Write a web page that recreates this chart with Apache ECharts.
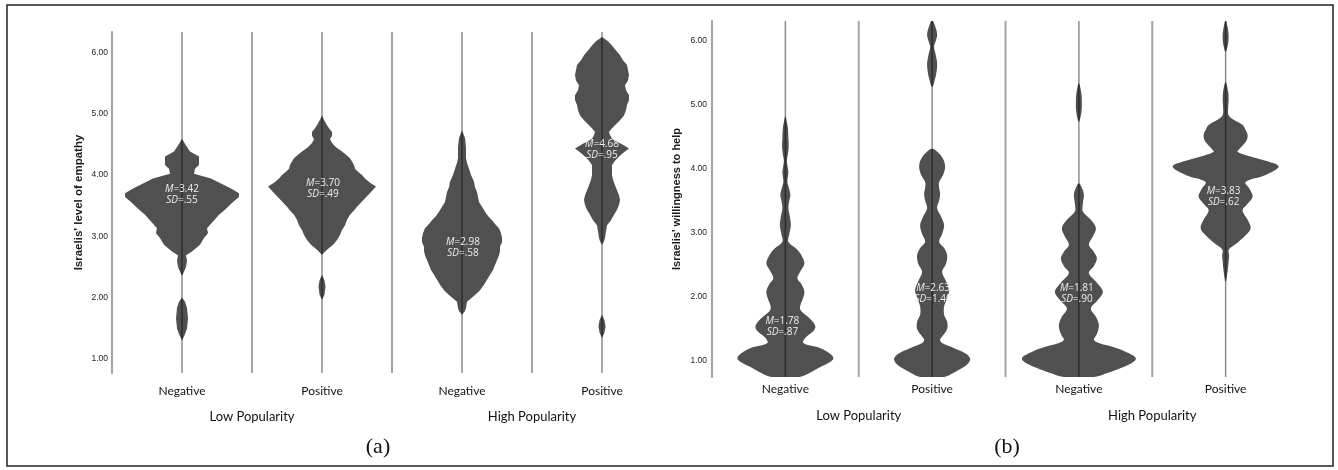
<!DOCTYPE html>
<html>
<head>
<meta charset="utf-8">
<script src="https://cdn.jsdelivr.net/npm/echarts@6/dist/echarts.min.js"></script>
<style>
  html, body { margin: 0; padding: 0; background: #fff; }
  #chart { width: 1338px; height: 470px; }
</style>
</head>
<body>
<div id="chart"></div>
<script>
// ---- data ----
const categories = ['Negative', 'Positive', 'Negative', 'Positive'];
const groups = ['Low Popularity', 'High Popularity'];
const yTicks = [1, 2, 3, 4, 5, 6];

const empathyMeans = [3.42, 3.70, 2.98, 4.68];
const empathySDs = [0.55, 0.49, 0.58, 0.95];
const helpMeans = [1.78, 2.63, 1.81, 3.83];
const helpSDs = [0.87, 1.40, 0.90, 0.62];

// density profiles: [scale value, half width]; a zero width closes a blob
const empathyNegLow = [
  [1.30, 0], [1.40, 3], [1.50, 5], [1.66, 6], [1.83, 5], [1.93, 3], [2.00, 0],
  [2.35, 0], [2.42, 2], [2.50, 4], [2.60, 5], [2.69, 4], [2.75, 10], [2.86, 18],
  [2.97, 22], [3.05, 26], [3.13, 25], [3.24, 31], [3.35, 37], [3.45, 44], [3.56, 51],
  [3.64, 57], [3.70, 57], [3.78, 49], [3.86, 39], [3.94, 29], [4.02, 12], [4.10, 13],
  [4.16, 17], [4.30, 17], [4.38, 8], [4.48, 4], [4.59, 0]
];
const empathyPosLow = [
  [1.96, 0], [2.05, 2.5], [2.18, 3.5], [2.28, 2.5], [2.37, 0],
  [2.70, 0], [2.78, 5], [2.86, 11], [2.94, 15], [3.02, 18], [3.10, 20], [3.18, 23],
  [3.27, 25], [3.35, 28], [3.42, 32], [3.48, 35], [3.55, 39], [3.62, 43], [3.72, 49],
  [3.81, 54], [3.87, 48], [3.94, 43], [4.00, 40], [4.05, 36], [4.10, 33], [4.16, 32],
  [4.22, 30], [4.27, 28], [4.33, 24], [4.38, 20], [4.45, 14], [4.52, 10], [4.58, 8],
  [4.64, 10], [4.70, 10], [4.76, 7], [4.81, 5], [4.90, 2], [4.97, 0]
];
const empathyNegHigh = [
  [1.72, 0], [1.78, 3], [1.83, 4], [1.93, 5], [2.04, 13], [2.12, 18], [2.21, 22],
  [2.29, 25], [2.37, 28], [2.45, 31], [2.53, 33], [2.61, 35], [2.69, 37], [2.76, 38],
  [2.83, 38], [2.90, 40], [2.97, 40], [3.05, 39], [3.13, 37], [3.20, 33], [3.26, 30],
  [3.33, 26], [3.40, 23], [3.48, 20], [3.56, 17], [3.64, 16], [3.72, 15], [3.80, 13],
  [3.89, 12], [4.00, 9], [4.10, 7], [4.20, 5], [4.27, 4], [4.45, 4], [4.60, 3], [4.73, 0]
];
const empathyPosHigh = [
  [1.34, 0], [1.43, 2.5], [1.53, 3.5], [1.63, 2.5], [1.72, 0],
  [2.86, 0], [2.92, 2], [2.97, 3], [3.08, 4], [3.18, 5], [3.26, 9], [3.35, 12],
  [3.43, 15], [3.51, 17], [3.59, 18], [3.67, 17], [3.75, 15], [3.83, 13], [3.92, 11],
  [4.00, 10], [4.08, 10], [4.16, 10], [4.23, 13], [4.30, 17], [4.37, 22], [4.43, 27],
  [4.50, 20], [4.55, 14], [4.59, 10], [4.65, 8], [4.70, 7], [4.76, 10], [4.81, 13],
  [4.89, 18], [4.97, 22], [5.06, 24], [5.14, 25], [5.22, 27], [5.30, 27], [5.38, 24],
  [5.46, 23], [5.54, 26], [5.63, 27], [5.71, 26], [5.79, 25], [5.87, 21], [5.95, 18],
  [6.03, 14], [6.11, 10], [6.18, 6], [6.25, 0]
];

const helpNegLow = [
  [0.75, 14], [0.82, 25], [0.89, 33], [0.96, 42], [1.04, 48], [1.12, 44], [1.20, 35],
  [1.28, 18], [1.36, 20], [1.45, 27], [1.53, 30], [1.62, 27], [1.72, 20], [1.80, 15],
  [1.87, 15], [1.95, 17], [2.08, 19], [2.20, 16], [2.29, 12], [2.40, 15], [2.52, 19],
  [2.65, 16], [2.75, 11], [2.86, 3], [2.98, 4], [3.12, 5.5], [3.25, 4.5], [3.38, 3],
  [3.50, 4], [3.59, 5], [3.70, 3.5], [3.79, 2], [3.87, 2.5], [3.95, 3], [4.05, 2],
  [4.13, 1.5], [4.22, 2.5], [4.34, 3.3], [4.48, 3], [4.63, 2.5], [4.72, 1.5], [4.81, 0]
];
const helpPosLow = [
  [0.75, 12], [0.82, 22], [0.89, 30], [0.96, 36], [1.04, 38], [1.12, 33], [1.20, 22],
  [1.28, 10], [1.33, 8], [1.40, 11], [1.50, 15], [1.61, 15], [1.72, 12], [1.85, 12],
  [1.98, 15], [2.11, 17], [2.24, 14], [2.39, 10], [2.52, 14], [2.65, 15], [2.76, 12],
  [2.86, 7], [2.98, 10], [3.12, 12], [3.25, 9], [3.38, 5], [3.50, 7], [3.61, 8],
  [3.70, 7], [3.79, 7], [3.90, 11], [4.03, 13], [4.15, 11], [4.25, 6], [4.31, 0],
  [5.27, 0], [5.40, 3], [5.52, 4.5], [5.64, 5], [5.78, 3.5], [5.90, 2], [5.98, 3.5],
  [6.08, 5], [6.20, 3.5], [6.31, 0]
];
const helpNegHigh = [
  [0.75, 15], [0.82, 30], [0.89, 42], [0.96, 52], [1.04, 57], [1.12, 50], [1.20, 38],
  [1.28, 20], [1.33, 15], [1.42, 18], [1.56, 20], [1.69, 17], [1.82, 12], [1.95, 19],
  [2.08, 24], [2.22, 18], [2.37, 10], [2.48, 15], [2.60, 18], [2.70, 15], [2.81, 10],
  [2.94, 14], [3.07, 17], [3.20, 12], [3.33, 4], [3.45, 4], [3.59, 5], [3.68, 3.5],
  [3.77, 0],
  [4.73, 0], [4.87, 2.5], [5.01, 3], [5.17, 2.5], [5.33, 0]
];
const helpPosHigh = [
  [2.24, 0], [2.40, 2], [2.55, 3], [2.65, 3.5], [2.73, 3], [2.80, 8], [2.86, 13],
  [2.96, 20], [3.07, 25], [3.20, 22], [3.35, 17], [3.45, 22], [3.56, 27], [3.68, 24],
  [3.79, 20], [3.90, 40], [4.03, 53], [4.12, 40], [4.20, 22], [4.26, 12], [4.31, 14],
  [4.36, 17], [4.44, 21], [4.52, 22], [4.60, 20], [4.68, 17], [4.76, 8], [4.83, 3],
  [4.95, 2.5], [5.07, 3], [5.20, 2.5], [5.35, 0],
  [5.82, 0], [5.95, 2.5], [6.08, 3], [6.20, 2], [6.31, 0]
];

// ---- panel setup ----
const panels = [
  {
    title: "Israelis' level of empathy",
    profiles: [empathyNegLow, empathyPosLow, empathyNegHigh, empathyPosHigh],
    means: empathyMeans, sds: empathySDs,
    refWidth: 140, smooth: 0,
    labelOffsets: [[0, -16], [1, -5], [1, 10], [0, 16.5]]
  },
  {
    title: "Israelis' willingness to help",
    profiles: [helpNegLow, helpPosLow, helpNegHigh, helpPosHigh],
    means: helpMeans, sds: helpSDs,
    refWidth: 146.7, smooth: 0.35,
    labelOffsets: [[-3, 15.5], [1, 37], [-2, -15], [-2, 17]]
  }
];

const VIOLIN_FILL = '#505050';
const GUIDE_GRAY = '#a3a3a3';

function splitBlobs(profile) {
  const blobs = [];
  let cur = [];
  profile.forEach(p => {
    cur.push(p);
    if (p[1] === 0 && cur.length > 1) { blobs.push(cur); cur = []; }
  });
  if (cur.length > 1) blobs.push(cur);
  return blobs;
}

function fmtSD(sd) {
  return sd.toFixed(2).replace(/^0/, '');
}

function violinSeries(panel, gi) {
  return {
    type: 'custom',
    xAxisIndex: gi * 2,
    yAxisIndex: gi,
    silent: true,
    clip: true,
    encode: { x: 0, y: 1 },
    data: panel.means.map((m, i) => [i + 0.5, m]),
    renderItem(params, api) {
      const i = params.dataIndex;
      const cs = params.coordSys;
      const unit = api.size([1, 0])[0];
      const k = unit / panel.refWidth;
      const cx = api.coord([i + 0.5, panel.means[i]])[0];
      const children = [];
      if (i > 0) {
        const sx = api.coord([i, panel.means[i]])[0];
        children.push({
          type: 'line',
          shape: { x1: sx, y1: cs.y, x2: sx, y2: cs.y + cs.height },
          style: { stroke: GUIDE_GRAY, lineWidth: 2 }
        });
      }
      splitBlobs(panel.profiles[i]).forEach(blob => {
        const right = blob.map(([v, d]) => [cx + d * k, api.coord([0, v])[1]]);
        const leftSrc = blob.slice().reverse().filter((p, j, arr) =>
          !(p[1] === 0 && (j === 0 || j === arr.length - 1)));
        const left = leftSrc.map(([v, d]) => [cx - d * k, api.coord([0, v])[1]]);
        children.push({
          type: 'polygon',
          shape: { points: right.concat(left), smooth: panel.smooth },
          style: { fill: VIOLIN_FILL }
        });
      });
      children.push({
        type: 'line',
        shape: { x1: cx, y1: cs.y, x2: cx, y2: cs.y + cs.height },
        style: { stroke: 'rgba(0,0,0,0.45)', lineWidth: 1.5 }
      });
      const [dx, dy] = panel.labelOffsets[i];
      const my = api.coord([0, panel.means[i]])[1];
      children.push({
        type: 'text',
        x: cx + dx,
        y: my + dy,
        style: {
          text: '{i|M}{n|=' + panel.means[i].toFixed(2) + '}\n{i|SD}{n|=' + fmtSD(panel.sds[i]) + '}',
          align: 'center',
          verticalAlign: 'middle',
          rich: {
            i: { fontStyle: 'italic', fontSize: 10, fontFamily: 'Open Sans', fill: '#eeeeee', lineHeight: 11 },
            n: { fontSize: 10, fontFamily: 'Open Sans', fill: '#eeeeee', lineHeight: 11 }
          }
        }
      });
      return { type: 'group', children };
    }
  };
}

const grids = [
  { left: 112, top: 32, width: 560, height: 341, yMin: 0.77, yMax: 6.33, nameGap: 27, nameSize: 11.5, tickMargin: 4, catMargin: 12, groupMargin: 37 },
  { left: 712, top: 21, width: 587, height: 356, yMin: 0.75, yMax: 6.30, nameGap: 30, nameSize: 11, tickMargin: 5, catMargin: 6, groupMargin: 32 }
];

const xAxes = [];
const yAxes = [];
grids.forEach((g, gi) => {
  xAxes.push({
    gridIndex: gi, type: 'value', min: 0, max: 4, position: 'bottom',
    axisLine: { show: false, onZero: false }, axisTick: { show: false }, splitLine: { show: false },
    axisLabel: {
      customValues: [0.5, 1.5, 2.5, 3.5],
      formatter: v => categories[Math.floor(v)],
      margin: g.catMargin, fontSize: 12, fontFamily: 'Lato', color: '#111'
    }
  });
  xAxes.push({
    gridIndex: gi, type: 'value', min: 0, max: 4, position: 'bottom',
    axisLine: { show: false, onZero: false }, axisTick: { show: false }, splitLine: { show: false },
    axisLabel: {
      customValues: [1, 3],
      formatter: v => groups[(v - 1) / 2],
      margin: g.groupMargin, fontSize: 13, fontFamily: 'Lato', color: '#111'
    }
  });
  yAxes.push({
    gridIndex: gi, type: 'value', min: g.yMin, max: g.yMax,
    name: panels[gi].title, nameLocation: 'middle', nameRotate: 90, nameGap: g.nameGap,
    nameTextStyle: { fontFamily: 'Liberation Sans', fontWeight: 'bold', fontSize: g.nameSize, color: '#1a1a1a' },
    axisLine: { show: true, onZero: false, lineStyle: { color: GUIDE_GRAY, width: 2 } },
    axisTick: { show: false },
    splitLine: { show: false },
    axisLabel: {
      customValues: yTicks,
      formatter: v => v.toFixed(2),
      margin: g.tickMargin, fontSize: 8.5, fontFamily: 'Liberation Sans', color: '#222'
    }
  });
});

const chart = echarts.init(document.getElementById('chart'));
chart.setOption({
  backgroundColor: '#ffffff',
  animation: false,
  grid: grids.map(g => ({ left: g.left, top: g.top, width: g.width, height: g.height })),
  xAxis: xAxes,
  yAxis: yAxes,
  series: panels.map((p, gi) => violinSeries(p, gi)),
  graphic: [
    {
      type: 'rect', z: 100, silent: true,
      shape: { x: 7, y: 5, width: 1326, height: 461 },
      style: { fill: 'none', stroke: '#222', lineWidth: 1.5 }
    },
    {
      type: 'text', x: 378, y: 447, silent: true,
      style: { text: '(a)', font: '22px "Liberation Serif"', align: 'center', verticalAlign: 'middle', fill: '#111' }
    },
    {
      type: 'text', x: 1007, y: 447, silent: true,
      style: { text: '(b)', font: '22px "Liberation Serif"', align: 'center', verticalAlign: 'middle', fill: '#111' }
    }
  ]
});
</script>
</body>
</html>
